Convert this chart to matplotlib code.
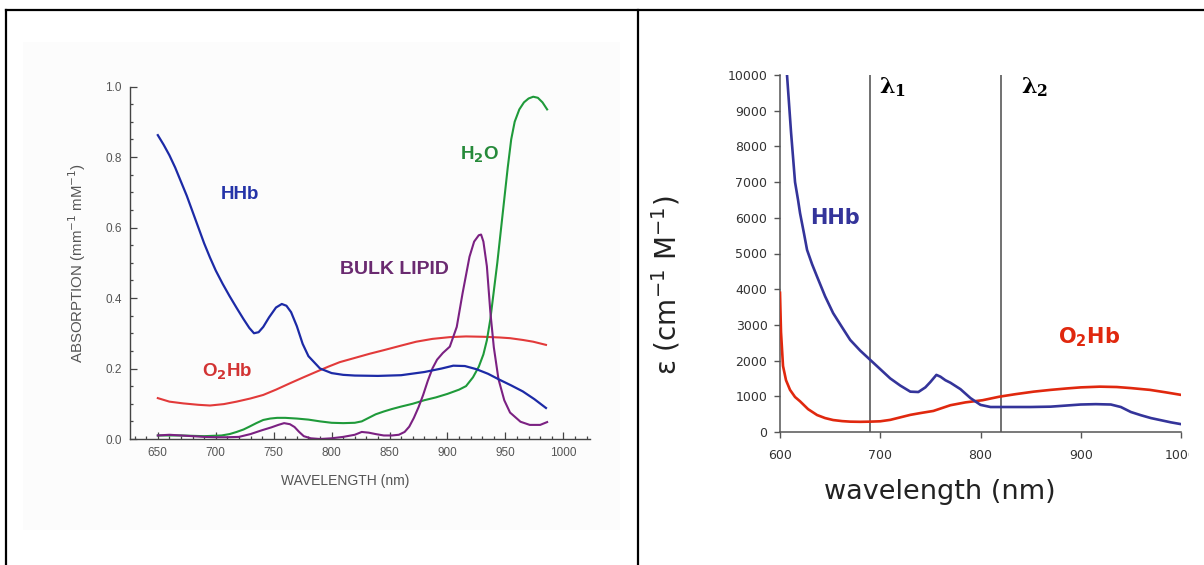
import numpy as np
import matplotlib
matplotlib.use("Agg")
import matplotlib.pyplot as plt
from matplotlib.lines import Line2D
from matplotlib.patches import Rectangle
from matplotlib.transforms import Bbox, TransformedBbox
from matplotlib.ticker import MultipleLocator

# ---------------- left panel data (absorption, mm^-1 mM^-1) ----------------
hhb_wl = [650, 655, 660, 665, 670, 675, 680, 685, 690, 695, 700, 706, 712, 718, 724, 729, 733, 737,
          741, 746, 752, 757, 761, 765, 770, 775, 780, 790, 800, 810, 820, 840, 860, 880, 895, 905,
          915, 925, 935, 945, 955, 965, 975, 985]
hhb_abs = [0.862, 0.835, 0.805, 0.77, 0.73, 0.69, 0.645, 0.60, 0.555, 0.515, 0.478, 0.44, 0.405, 0.372,
           0.34, 0.315, 0.30, 0.303, 0.318, 0.345, 0.373, 0.383, 0.378, 0.36, 0.32, 0.27, 0.235, 0.20,
           0.187, 0.182, 0.18, 0.179, 0.181, 0.19, 0.20, 0.208, 0.207, 0.198, 0.185, 0.168, 0.152,
           0.135, 0.113, 0.088]

o2hb_wl = [650, 660, 672, 685, 695, 707, 718, 730, 741, 752, 764, 775, 787, 797, 807, 820, 833, 845,
           860, 873, 887, 902, 916, 931, 945, 954, 965, 974, 985]
o2hb_abs = [0.116, 0.106, 0.101, 0.097, 0.095, 0.099, 0.106, 0.115, 0.125, 0.14, 0.158, 0.174, 0.191,
            0.205, 0.218, 0.23, 0.242, 0.252, 0.265, 0.276, 0.284, 0.289, 0.291, 0.29, 0.288, 0.286,
            0.281, 0.276, 0.267]

h2o_wl = [650, 670, 690, 705, 712, 718, 724, 729, 735, 741, 747, 753, 760, 770, 780, 790, 800, 810, 820,
          826, 832, 838, 845, 852, 860, 870, 880, 890, 900, 910, 916, 922, 927, 931, 934, 937, 940, 943,
          946, 949, 952, 955, 958, 962, 966, 970, 974, 978, 982, 986]
h2o_abs = [0.01, 0.01, 0.008, 0.01, 0.014, 0.02, 0.027, 0.035, 0.045, 0.054, 0.058, 0.06, 0.06, 0.058,
           0.055, 0.05, 0.046, 0.045, 0.046, 0.05, 0.06, 0.07, 0.078, 0.085, 0.092, 0.1, 0.11, 0.118,
           0.128, 0.14, 0.15, 0.175, 0.205, 0.24, 0.28, 0.34, 0.42, 0.5, 0.59, 0.68, 0.77, 0.85, 0.9,
           0.935, 0.955, 0.966, 0.971, 0.968, 0.955, 0.935]

lipid_wl = [650, 660, 670, 680, 690, 700, 710, 720, 730, 740, 748, 754, 759, 764, 768, 772, 776, 782, 790,
            800, 810, 820, 826, 832, 838, 845, 852, 858, 863, 867, 871, 875, 879, 883, 887, 891, 896, 902,
            908, 913, 919, 923, 927, 929, 931, 934, 937, 940, 944, 949, 954, 963, 971, 980, 986]
lipid_abs = [0.01, 0.012, 0.01, 0.008, 0.006, 0.005, 0.005, 0.006, 0.014, 0.025, 0.033, 0.04, 0.045,
             0.042, 0.034, 0.02, 0.008, 0.002, 0.0, 0.002, 0.006, 0.012, 0.02, 0.018, 0.014, 0.01, 0.01,
             0.012, 0.02, 0.035, 0.06, 0.09, 0.125, 0.165, 0.2, 0.225, 0.244, 0.262, 0.318, 0.413, 0.517,
             0.56, 0.578, 0.58, 0.56, 0.49, 0.36, 0.26, 0.17, 0.11, 0.075, 0.049, 0.04, 0.04, 0.048]

left_xticks = [650, 700, 750, 800, 850, 900, 950, 1000]
left_yticks = [0.0, 0.2, 0.4, 0.6, 0.8, 1.0]

# ---------------- right panel data (extinction, cm^-1 M^-1) ----------------
hhb_r_wl = [607, 609, 611, 613, 615, 618, 620, 624, 627, 632, 637, 645, 653, 662, 670, 680, 690, 700,
            710, 720, 730, 738, 745, 750, 756, 760, 765, 770, 780, 790, 800, 810, 830, 850, 870, 885,
            900, 915, 930, 940, 950, 960, 970, 980, 990, 1000]
hhb_r_eps = [10000, 9200, 8400, 7700, 7000, 6500, 6130, 5550, 5100, 4700, 4350, 3800, 3330, 2930, 2580,
             2280, 2020, 1760, 1500, 1300, 1130, 1120, 1250, 1400, 1600, 1550, 1450, 1380, 1200, 950,
             760, 700, 700, 700, 710, 740, 770, 780, 770, 700, 560, 470, 390, 330, 270, 220]

o2hb_r_wl = [600, 601, 603, 606, 610, 615, 620, 628, 637, 645, 653, 662, 670, 680, 690, 700, 710, 720,
             730, 740, 753, 770, 785, 802, 819, 835, 853, 870, 886, 900, 919, 936, 950, 969, 985, 1000]
o2hb_r_eps = [3900, 2800, 1850, 1450, 1180, 980, 860, 640, 475, 390, 335, 305, 290, 285, 290, 300, 340,
              410, 480, 530, 590, 750, 830, 890, 990, 1060, 1130, 1180, 1220, 1250, 1270, 1260, 1230,
              1180, 1110, 1040]

lambda_lines = [690, 820]
lambda_labels = [r"$\mathbf{\lambda}_\mathbf{1}$", r"$\mathbf{\lambda}_\mathbf{2}$"]
right_xticks = [600, 700, 800, 900, 1000]
right_yticks = list(range(0, 10001, 1000))

# ---------------- figure ----------------
W, H = 1204, 565
fig = plt.figure(figsize=(W / 100, H / 100), dpi=100)
fig.patch.set_facecolor("white")


def fx(px):
    return px / W


def fy(py):
    return 1 - py / H


# faint scanned background of left picture
fig.add_artist(Rectangle((fx(23), fy(530)), fx(597), (530 - 42) / H, transform=fig.transFigure,
                         facecolor="#fcfcfc", edgecolor="none", zorder=0))

# table borders
for xs, ys in [((fx(6), 1.0), (fy(10.3), fy(10.3))),
               ((fx(6), fx(6)), (fy(10.3), 0)),
               ((fx(637.8), fx(637.8)), (fy(10.3), 0))]:
    fig.add_artist(Line2D(xs, ys, transform=fig.transFigure, color="black", lw=1.6, zorder=5))

# ---------------- left axes ----------------
lfont = "Liberation Sans"
ax1 = fig.add_axes([fx(130), fy(439), fx(460), (439 - 86.5) / H])
ax1.set_facecolor("none")
ax1.plot(o2hb_wl, o2hb_abs, color="#e23a3a", lw=1.5)
ax1.plot(h2o_wl, h2o_abs, color="#1f9a3a", lw=1.5)
ax1.plot(lipid_wl, lipid_abs, color="#7b2182", lw=1.5)
ax1.plot(hhb_wl, hhb_abs, color="#1c2aa6", lw=1.6)
ax1.set_xlim(626, 1023)
ax1.set_ylim(0, 1.0)
ax1.set_xticks(left_xticks)
ax1.set_yticks(left_yticks)
ax1.set_yticklabels([f"{v:.1f}" for v in left_yticks])
ax1.xaxis.set_minor_locator(MultipleLocator(10))
ax1.yaxis.set_minor_locator(MultipleLocator(0.05))
for s in ["top", "right"]:
    ax1.spines[s].set_visible(False)
for s in ["left", "bottom"]:
    ax1.spines[s].set_color("#444444")
    ax1.spines[s].set_linewidth(1.0)
ax1.tick_params(which="both", direction="in", colors="#444444", labelcolor="#555555",
                labelsize=8.5, width=0.9)
ax1.tick_params(which="major", length=5, pad=6)
ax1.tick_params(which="minor", length=2.5)
for lab in ax1.get_xticklabels() + ax1.get_yticklabels():
    lab.set_family(lfont)
ax1.text(-0.115, 0.5, r"ABSORPTION (mm$^{-1}$ mM$^{-1}$)", transform=ax1.transAxes, rotation=90,
         ha="center", va="center", fontsize=10.8, color="#555555", family=lfont)
ax1.text(0.467, -0.119, "WAVELENGTH (nm)", transform=ax1.transAxes, ha="center", va="center",
         fontsize=10, color="#555555", family=lfont)

ax1.text(721, 0.695, "HHb", color="#2433a8", fontsize=13.5, fontweight="bold", family=lfont,
         ha="center", va="center")
ax1.text(710, 0.19, r"O$_\mathbf{2}$Hb", color="#d23333", fontsize=13.5, fontweight="bold",
         family=lfont, ha="center", va="center")
ax1.text(854, 0.48, "BULK LIPID", color="#6a2a70", fontsize=14, fontweight="bold", family=lfont,
         ha="center", va="center")
ax1.text(928, 0.806, r"H$_\mathbf{2}$O", color="#268a3a", fontsize=13.5, fontweight="bold",
         family=lfont, ha="center", va="center")

# ---------------- right axes ----------------
rfont = "DejaVu Sans"
ax2 = fig.add_axes([fx(780), fy(432), fx(401), (432 - 75) / H])
ax2.set_facecolor("none")
for xv in lambda_lines:
    ax2.axvline(xv, color="#666666", lw=1.3, zorder=1)
ax2.plot(o2hb_r_wl, o2hb_r_eps, color="#e0280e", lw=1.9, zorder=3)
ax2.plot(hhb_r_wl, hhb_r_eps, color="#34349a", lw=1.9, zorder=3)
ax2.set_xlim(600, 1000)
ax2.set_ylim(0, 10000)
ax2.set_xticks(right_xticks)
ax2.set_yticks(right_yticks)
for s in ["top", "right"]:
    ax2.spines[s].set_visible(False)
for s in ["left", "bottom"]:
    ax2.spines[s].set_color("#555555")
    ax2.spines[s].set_linewidth(1.1)
ax2.tick_params(which="both", direction="out", colors="#555555", labelcolor="#333333",
                labelsize=9, length=4, width=1.0)
ax2.tick_params(axis="x", pad=8)
ax2.tick_params(axis="y", pad=5)
for lab in ax2.get_xticklabels() + ax2.get_yticklabels():
    lab.set_family(rfont)
clip = TransformedBbox(Bbox([[0, 0], [fx(1189), 1]]), fig.transFigure)
for lab in ax2.get_xticklabels():
    lab.set_clip_box(clip)
    lab.set_clip_on(True)

ax2.text(-0.285, 0.41, r"ε (cm$^{-1}$ M$^{-1}$)", transform=ax2.transAxes, rotation=90,
         ha="center", va="center", fontsize=20, color="#222222", family=rfont)
ax2.text(0.399, -0.168, "wavelength (nm)", transform=ax2.transAxes, ha="center", va="center",
         fontsize=19.5, color="#222222", family=rfont)
for xv, lab in zip([712, 854], lambda_labels):
    ax2.text(xv, 9650, lab, fontsize=16, color="black", ha="center", va="center",
             math_fontfamily="dejavuserif")
ax2.text(655, 6000, "HHb", color="#34349a", fontsize=15, fontweight="bold", family=rfont,
         ha="center", va="center")
ax2.text(908, 2660, r"O$_\mathbf{2}$Hb", color="#e0280e", fontsize=15, fontweight="bold",
         family=rfont, ha="center", va="center")

fig.savefig("out.png", dpi=100, facecolor="white")
